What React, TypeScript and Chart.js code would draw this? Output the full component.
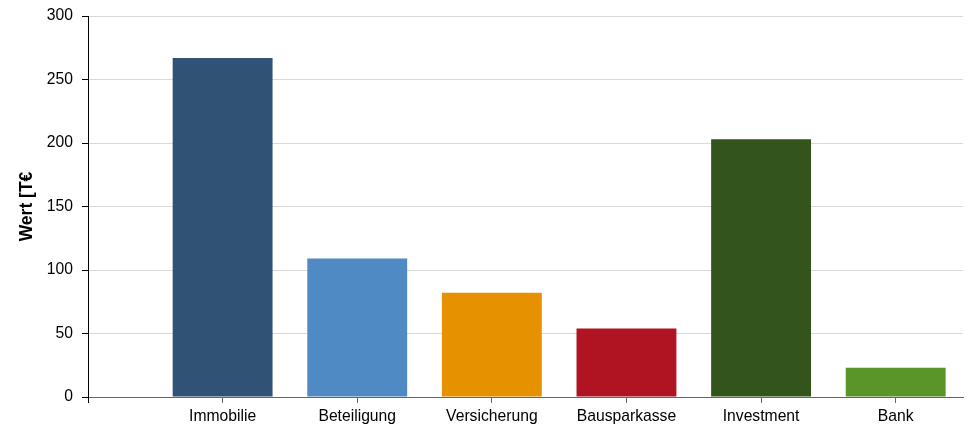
import React, { useEffect, useRef } from "react";
import { Chart, registerables } from "chart.js";

Chart.register(...registerables);

const categories = ["Immobilie", "Beteiligung", "Versicherung", "Bausparkasse", "Investment", "Bank"];
const values = [267, 109, 82, 54, 203, 23];
const colors = ["#2f5275", "#4f8ac4", "#e69100", "#b01423", "#33541a", "#5a952a"];
const yTicks = [0, 50, 100, 150, 200, 250, 300];
const yTitle = "Wert [T€";

const FONT = "'Liberation Sans', Arial, sans-serif";

export default function App() {
  const ref = useRef<HTMLCanvasElement | null>(null);

  useEffect(() => {
    document.body.style.margin = "0";
    const canvas = ref.current;
    if (!canvas) return;
    const chart = new Chart(canvas, {
      type: "bar",
      data: {
        datasets: [
          {
            data: values.map((v, i) => ({ x: i, y: v })),
            backgroundColor: colors,
            borderWidth: 0,
            categoryPercentage: 1,
            barPercentage: 0.742,
          },
        ],
      },
      options: {
        animation: false,
        responsive: false,
        maintainAspectRatio: false,
        layout: { padding: { top: 16, right: 6, bottom: 0, left: 0 } },
        plugins: { legend: { display: false }, tooltip: { enabled: false } },
        scales: {
          x: {
            type: "linear",
            min: -1,
            max: 5.5,
            offset: false,
            afterBuildTicks: (scale: any) => {
              scale.ticks = [-1, 0, 1, 2, 3, 4, 5].map((v) => ({ value: v }));
            },
            afterFit: (scale: any) => {
              scale.height = 30;
            },
            grid: {
              display: true,
              offset: false,
              drawOnChartArea: false,
              drawTicks: true,
              tickLength: 6,
              tickColor: (ctx: any) => (ctx.tick && ctx.tick.value === -1 ? "#000" : "#666"),
            },
            border: { display: true, color: "#666", width: 1 },
            ticks: {
              autoSkip: false,
              maxRotation: 0,
              padding: 4,
              color: "#000",
              font: { family: FONT, size: 15.7 },
              callback: (v: any) => categories[v as number] ?? "",
            },
          },
          y: {
            min: 0,
            max: 300,
            afterBuildTicks: (scale: any) => {
              scale.ticks = yTicks.map((v) => ({ value: v }));
            },
            afterFit: (scale: any) => {
              scale.width = 88;
              scale.paddingTop = 0;
              scale.paddingBottom = 0;
            },
            grid: {
              color: "#d9d9d9",
              tickColor: "#000",
              tickLength: 6,
            },
            border: { display: true, color: "#000", width: 1 },
            ticks: {
              padding: 9,
              color: "#000",
              font: { family: FONT, size: 15.7, lineHeight: 1 },
            },
            title: {
              display: true,
              text: yTitle,
              color: "#000",
              padding: { top: 17, bottom: 0 },
              font: { family: FONT, size: 17.5, weight: "bold" },
            },
          },
        },
      },
    });
    return () => chart.destroy();
  }, []);

  return (
    <div style={{ width: 969, height: 427 }}>
      <canvas ref={ref} width={969} height={427} style={{ width: 969, height: 427 }} />
    </div>
  );
}
